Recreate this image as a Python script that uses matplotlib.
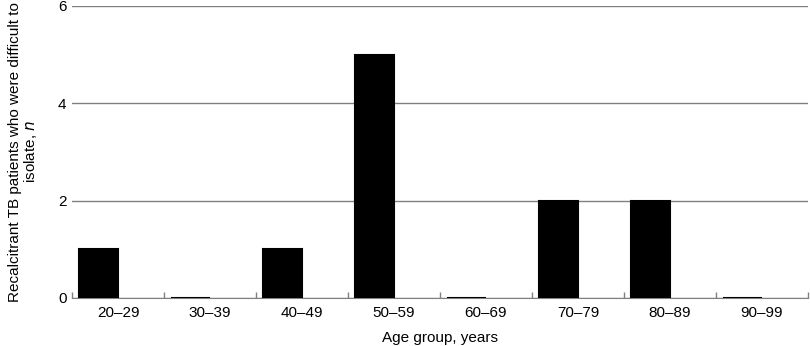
import matplotlib.pyplot as plt
import numpy as np

plt.rcParams['font.family'] = ['Liberation Sans', 'DejaVu Sans']

age_groups = ['20\u201329', '30\u201339', '40\u201349', '50\u201359',
              '60\u201369', '70\u201379', '80\u201389', '90\u201399']
patients = [1, 0, 1, 5, 0, 2, 2, 0]

fig = plt.figure(figsize=(8.1, 3.46), dpi=100)
ax = fig.add_axes([0.0889, 0.139, 0.9086, 0.844])

x = np.arange(len(age_groups))
ax.bar(x - 0.5 + 0.076, patients, width=0.42, align='edge',
       color='black', edgecolor='black', linewidth=1.5, zorder=3)

ax.set_xlim(-0.5, len(age_groups) - 0.5)
ax.set_ylim(0, 6)
ax.set_yticks([0, 2, 4, 6])
ax.yaxis.grid(True, color='#808080', linewidth=1)
ax.set_axisbelow(True)

ax.set_xticks(x)
ax.set_xticklabels(age_groups)
ax.set_xticks(np.arange(len(age_groups) + 1) - 0.5, minor=True)
ax.tick_params(axis='x', which='major', length=0, labelsize=11, pad=6)
ax.tick_params(axis='x', which='minor', direction='in', length=4,
               color='#808080', width=1)
ax.tick_params(axis='y', length=0, labelsize=11, pad=4)

for s in ['top', 'right', 'left']:
    ax.spines[s].set_visible(False)
ax.spines['bottom'].set_color('#808080')

ax.set_xlabel('Age group, years', fontsize=11, labelpad=8)
ax.set_ylabel('Recalcitrant TB patients who were difficult to\nisolate, $\\it{n}$',
              fontsize=11, labelpad=14, linespacing=1.0)

fig.savefig('out.png', dpi=100)
